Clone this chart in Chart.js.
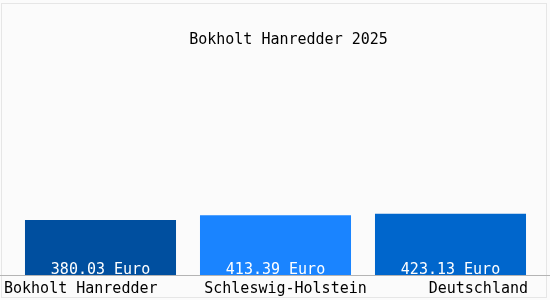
<!DOCTYPE html>
<html>
<head>
<meta charset="utf-8">
<script src="https://cdn.jsdelivr.net/npm/chart.js@4/dist/chart.umd.min.js"></script>
<style>
  html, body { margin: 0; padding: 0; background: #fbfbfb; }
  #wrap { width: 550px; height: 300px; position: relative; }
</style>
</head>
<body>
<div id="wrap"><canvas id="c" width="550" height="300"></canvas></div>
<script>
const chartTitle = 'Bokholt Hanredder 2025';
const categories = ['Bokholt Hanredder', 'Schleswig-Holstein', 'Deutschland'];
const values = [380.03, 413.39, 423.13];
const unit = 'Euro';
const barColors = ['#004f9f', '#1a84ff', '#0066cc'];

const FONT = '15px "DejaVu Sans Mono", monospace';

const decor = {
  id: 'decor',
  beforeDraw(chart) {
    const ctx = chart.ctx;
    ctx.save();
    ctx.fillStyle = '#fbfbfb';
    ctx.fillRect(0, 0, chart.width, chart.height);
    ctx.strokeStyle = '#e6e6e6';
    ctx.lineWidth = 1;
    ctx.strokeRect(1.5, 3.5, chart.width - 5, chart.height - 6);
    ctx.restore();
  },
  afterDatasetsDraw(chart) {
    const ctx = chart.ctx;
    const area = chart.chartArea;
    const xs = chart.scales.x;
    const meta = chart.getDatasetMeta(0);
    ctx.save();
    // axis line
    ctx.strokeStyle = '#b4b4b4';
    ctx.lineWidth = 1;
    ctx.beginPath();
    ctx.moveTo(0, area.bottom + 0.5);
    ctx.lineTo(chart.width, area.bottom + 0.5);
    ctx.stroke();
    // title
    ctx.font = FONT;
    ctx.fillStyle = '#000';
    ctx.textAlign = 'center';
    ctx.textBaseline = 'middle';
    ctx.fillText(chartTitle, (area.left + area.right) / 2 + 13, 40);
    // value labels
    ctx.fillStyle = '#ffffff';
    ctx.textBaseline = 'alphabetic';
    meta.data.forEach((bar, i) => {
      ctx.fillText(values[i].toFixed(2) + ' ' + unit, bar.x, bar.base - 1.5);
    });
    // category labels
    ctx.fillStyle = '#000';
    const y = area.bottom + 18;
    categories.forEach((lab, i) => {
      const px = xs.getPixelForValue(i);
      if (i === 0) {
        ctx.textAlign = 'left';
        ctx.fillText(lab, area.left - 9, y);
      } else if (i === categories.length - 1) {
        ctx.textAlign = 'right';
        ctx.fillText(lab, area.right - 10, y);
      } else {
        ctx.textAlign = 'center';
        ctx.fillText(lab, px + 10, y);
      }
    });
    ctx.restore();
  }
};

new Chart(document.getElementById('c'), {
  type: 'bar',
  data: {
    labels: categories,
    datasets: [{
      data: values,
      backgroundColor: barColors,
      borderWidth: 0,
      categoryPercentage: 1,
      barPercentage: 0.863
    }]
  },
  options: {
    responsive: false,
    animation: false,
    devicePixelRatio: 1,
    layout: { padding: { left: 13, right: 12, top: 58, bottom: 25 } },
    plugins: { legend: { display: false }, title: { display: false }, tooltip: { enabled: false } },
    scales: {
      x: { display: false, offset: true },
      y: { display: false, min: 0, max: 1500 }
    }
  },
  plugins: [decor]
});
</script>
</body>
</html>
